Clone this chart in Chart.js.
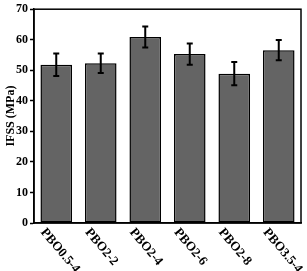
<!DOCTYPE html>
<html>
<head>
<meta charset="utf-8">
<script src="https://cdn.jsdelivr.net/npm/chart.js@4/dist/chart.umd.min.js"></script>
<style>
  html, body { margin: 0; padding: 0; background: #fff; }
  #wrap { width: 307px; height: 271px; }
</style>
</head>
<body>
<div id="wrap"><canvas id="myChart"></canvas></div>
<script>
const samples = ['PBO0.5-4', 'PBO2-2', 'PBO2-4', 'PBO2-6', 'PBO2-8', 'PBO3.5-4'];
const ifss = [51.8, 52.3, 60.9, 55.3, 48.9, 56.6];
const ifssErr = [3.7, 3.2, 3.4, 3.5, 3.8, 3.3];
const yTicks = [0, 10, 20, 30, 40, 50, 60, 70];

const serif = '"Liberation Serif", "Times New Roman", serif';

// error bars + slanted sample names + box frame
const extras = {
  id: 'extras',
  afterDatasetsDraw(chart) {
    const ctx = chart.ctx;
    const y = chart.scales.y;
    const meta = chart.getDatasetMeta(0);
    ctx.save();
    ctx.strokeStyle = '#000';
    ctx.lineWidth = 2;
    meta.data.forEach((bar, i) => {
      const top = y.getPixelForValue(ifss[i] + ifssErr[i]);
      const bot = y.getPixelForValue(ifss[i] - ifssErr[i]);
      ctx.beginPath();
      ctx.moveTo(bar.x, top); ctx.lineTo(bar.x, bot);
      ctx.moveTo(bar.x - 3, top); ctx.lineTo(bar.x + 3, top);
      ctx.moveTo(bar.x - 3, bot); ctx.lineTo(bar.x + 3, bot);
      ctx.stroke();
    });
    ctx.restore();
  },
  afterDraw(chart) {
    const ctx = chart.ctx;
    const a = chart.chartArea;
    const meta = chart.getDatasetMeta(0);
    ctx.save();
    ctx.strokeStyle = '#000';
    ctx.lineWidth = 1.5;
    ctx.strokeRect(a.left, a.top, a.right - a.left, a.bottom - a.top);
    ctx.fillStyle = '#000';
    ctx.font = 'bold 13px ' + serif;
    ctx.textAlign = 'left';
    ctx.textBaseline = 'top';
    meta.data.forEach((bar, i) => {
      ctx.save();
      ctx.translate(bar.x - 8.5, a.bottom + 3);
      ctx.rotate(50 * Math.PI / 180);
      ctx.fillText(samples[i], 0, 0);
      ctx.restore();
    });
    ctx.restore();
  }
};

const ctx = document.getElementById('myChart').getContext('2d');

new Chart(ctx, {
  type: 'bar',
  data: {
    labels: samples,
    datasets: [{
      label: 'IFSS',
      data: ifss,
      backgroundColor: '#646464',
      borderColor: '#000',
      borderWidth: 1.5,
      borderSkipped: false,
      categoryPercentage: 1,
      barPercentage: 0.71
    }]
  },
  options: {
    responsive: true,
    maintainAspectRatio: false,
    animation: false,
    layout: { padding: { top: 7, right: 6, left: 0, bottom: 0 } },
    plugins: {
      legend: { display: false },
      tooltip: { enabled: false }
    },
    scales: {
      x: {
        grid: { display: false },
        border: { color: '#000', width: 1.5 },
        ticks: { display: false },
        afterFit(scale) { scale.height = 48; }
      },
      y: {
        min: 0,
        max: 70,
        afterBuildTicks(scale) { scale.ticks = yTicks.map(v => ({ value: v })); },
        grid: { drawOnChartArea: false, tickLength: 4, color: '#000', tickWidth: 1.5 },
        border: { color: '#000', width: 1.5 },
        ticks: {
          color: '#000',
          padding: 2,
          font: { family: serif, size: 12, weight: 'bold' }
        },
        title: {
          display: true,
          text: 'IFSS (MPa)',
          color: '#000',
          padding: { top: 4, bottom: 0 },
          font: { family: serif, size: 12, weight: 'bold' }
        },
        afterFit(scale) { scale.width = 34; }
      }
    }
  },
  plugins: [extras]
});
</script>
</body>
</html>
